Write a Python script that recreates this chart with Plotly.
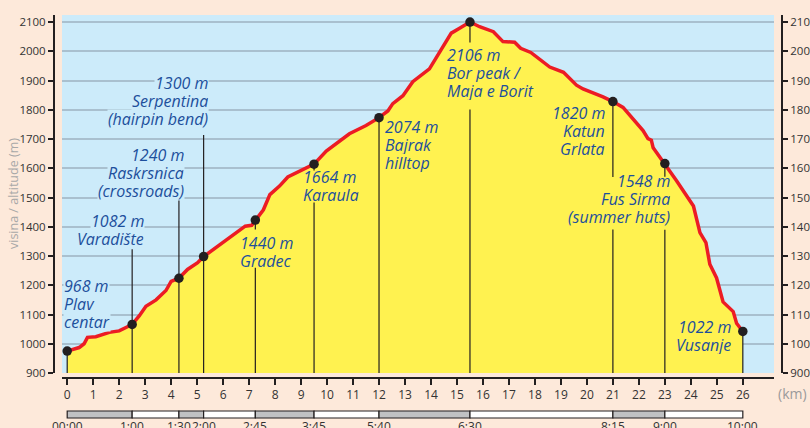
import plotly.graph_objects as go

# ---------------- data ----------------
profile_km = [0, 0.46, 0.65, 0.78, 1.1, 1.62, 2.0, 2.2, 2.5, 2.77, 3.03, 3.42, 3.8, 4.0, 4.3,
              4.63, 5.02, 5.25, 5.79, 6.3, 6.85, 7.1, 7.24, 7.55, 7.8, 8.17, 8.49, 8.81, 9.13,
              9.5, 9.97, 10.86, 11.5, 12.0, 12.34, 12.53, 12.92, 13.3, 13.94, 14.39, 14.78,
              15.1, 15.5, 15.87, 16.4, 16.77, 17.22, 17.45, 17.84, 18.57, 19.1, 19.6, 19.85,
              20.62, 21.0, 21.39, 22.16, 22.35, 22.48, 22.55, 23.0, 23.45, 24.1, 24.35, 24.58,
              24.73, 24.99, 25.24, 25.63, 25.76, 26.0]
profile_elev = [975, 987, 1000, 1022, 1024, 1039, 1044, 1053, 1066, 1095, 1128, 1150, 1182, 1213, 1224,
                1254, 1277, 1298, 1332, 1364, 1402, 1405, 1423, 1458, 1510, 1539, 1570, 1584, 1600,
                1614, 1659, 1718, 1746, 1773, 1796, 1821, 1848, 1896, 1940, 2007, 2062,
                2079, 2100, 2084, 2067, 2033, 2031, 2010, 1996, 1946, 1928, 1884, 1871,
                1844, 1828, 1808, 1729, 1701, 1696, 1670, 1616, 1557, 1471, 1380, 1346,
                1272, 1225, 1143, 1110, 1070, 1042]

station_km = [0, 2.5, 4.3, 5.25, 7.24, 9.5, 12, 15.5, 21, 23, 26]
station_elev = [975, 1066, 1224, 1298, 1423, 1614, 1773, 2100, 1828, 1616, 1042]
station_labels = [["968 m", "Plav", "centar"],
                  ["1082 m", "Varadište"],
                  ["1240 m", "Raskrsnica", "(crossroads)"],
                  ["1300 m", "Serpentina", "(hairpin bend)"],
                  ["1440 m", "Gradec"],
                  ["1664 m", "Karaula"],
                  ["2074 m", "Bajrak", "hilltop"],
                  ["2106 m", "Bor peak /", "Maja e Borit"],
                  ["1820 m", "Katun", "Grlata"],
                  ["1548 m", "Fus Sirma", "(summer huts)"],
                  ["1022 m", "Vusanje"]]
station_times = ["00:00", "1:00", "1:30", "2:00", "2:45", "3:45", "5:40", "6:30", "8:15", "9:00", "10:00"]

y_ticks = [900, 1000, 1100, 1200, 1300, 1400, 1500, 1600, 1700, 1800, 1900, 2000, 2100]
x_ticks = list(range(0, 27))
y_title = "visina / altitude (m)"
x_unit = "(km)"

# ---------------- layout helpers (positions / styles) ----------------
label_x = [-0.15, 3.0, 4.53, 5.47, 6.6, 9.04, 12.21, 14.59, 20.75, 23.23, 25.6]
label_y = [1135, 1390, 1583, 1829, 1313, 1538, 1680, 1925, 1727, 1494, 1026]
label_side = ["left", "right", "right", "right", "left", "left", "left", "left", "right", "right", "right"]
label_on_sky = [True, True, True, True, False, False, False, False, False, False, False]
leader_parts = [
    [(None, 900)],
    [(1323, 900)],
    [(1494, 900)],
    [(1714, 900)],
    [(None, 1391), (1260, 900)],
    [(None, 1592), (1483, 900)],
    [(None, 900)],
    [(None, 2030), (1801, 900)],
    [(None, 1570), (1391, 900)],
    [(None, 1571), (1390, 900)],
    [(None, 900)],
]

BG = "#FDE9DA"
SKY = "#CCEBFA"
YELLOW = "#FFF250"
RED = "#EC1C24"
INK = "#231F20"
BLUE_TXT = "#1D4F9C"
FONT = "Open Sans"
LABEL_SIZE = 16
ROW_PX = 18

W, H = 810, 428
ML, MR, MT, MB = 54, 28, 15, 50
PW = W - ML - MR
PH = H - MT - MB
xdom = [8 / PW, 1 - 8 / PW]
ydom = [5 / PH, 1]
Y_RANGE = [900, 2124]
m_per_px = (Y_RANGE[1] - Y_RANGE[0]) / (PH * (ydom[1] - ydom[0]))


def px_to_paper_x(px):
    return (px - ML) / PW


def px_to_paper_y(py):
    return (H - MB - py) / PH


fig = go.Figure()

fig.add_trace(go.Scatter(
    x=profile_km, y=profile_elev, mode="lines",
    line=dict(color=RED, width=3.5), fill="tozeroy", fillcolor=YELLOW,
    hoverinfo="skip", showlegend=False))

lx, ly = [], []
for k, e, parts in zip(station_km, station_elev, leader_parts):
    for top, bot in parts:
        lx += [k, k, None]
        ly += [e if top is None else top, bot, None]
fig.add_trace(go.Scatter(x=lx, y=ly, mode="lines", line=dict(color=INK, width=1.2),
                         hoverinfo="skip", showlegend=False))

fig.add_trace(go.Scatter(x=station_km, y=station_elev, mode="markers",
                         marker=dict(size=9.5, color=INK), cliponaxis=False,
                         hoverinfo="skip", showlegend=False))

# dummy trace so the right-hand axis is drawn
fig.add_trace(go.Scatter(x=[station_km[0]], y=[station_elev[0]], yaxis="y2", mode="markers",
                         marker=dict(opacity=0), hoverinfo="skip", showlegend=False))

annotations = []
for rows, x, yc, side, sky in zip(station_labels, label_x, label_y, label_side, label_on_sky):
    n = len(rows)
    for i, row in enumerate(rows):
        yy = yc + ((n - 1) / 2 - i) * ROW_PX * m_per_px
        annotations.append(dict(
            text=row, x=x, y=yy, xref="x", yref="y", showarrow=False,
            xanchor=side, yanchor="middle", align=side, height=ROW_PX,
            font=dict(family=FONT, size=LABEL_SIZE, color=BLUE_TXT, style="italic"),
            bgcolor=SKY if sky else None, borderpad=0))

annotations.append(dict(text=y_title, textangle=-90, x=px_to_paper_x(13), y=px_to_paper_y(194),
                        xref="paper", yref="paper", showarrow=False,
                        xanchor="center", yanchor="middle",
                        font=dict(family=FONT, size=12.5, color="#A8A8A8")))
annotations.append(dict(text=x_unit, x=px_to_paper_x(792), y=px_to_paper_y(393),
                        xref="paper", yref="paper", showarrow=False,
                        xanchor="center", yanchor="middle",
                        font=dict(family=FONT, size=14, color="#9A9A9A")))

shapes = []
bar_y0, bar_y1 = px_to_paper_y(418), px_to_paper_y(411)
for i in range(len(station_km) - 1):
    shapes.append(dict(type="rect", xref="x", yref="paper",
                       x0=station_km[i], x1=station_km[i + 1], y0=bar_y0, y1=bar_y1,
                       fillcolor="#C0C1C3" if i % 2 == 0 else "#FFFFFF",
                       line=dict(color=INK, width=1.2), layer="above"))
for k, t in zip(station_km, station_times):
    annotations.append(dict(text=t, x=k, y=px_to_paper_y(426.5), xref="x", yref="paper",
                            showarrow=False, xanchor="center", yanchor="middle",
                            font=dict(family=FONT, size=12, color="#333333")))

yaxis_common = dict(range=Y_RANGE, tickvals=y_ticks, ticks="outside", ticklen=5,
                    tickwidth=1.5, tickcolor=INK, showline=True, linecolor=INK, linewidth=2,
                    tickfont=dict(family=FONT, size=11.5, color="#333333"), zeroline=False,
                    domain=ydom, anchor="free", automargin=False)

fig.update_layout(
    width=W, height=H,
    margin=dict(l=ML, r=MR, t=MT, b=MB, autoexpand=False),
    paper_bgcolor=BG, plot_bgcolor=SKY,
    showlegend=False,
    xaxis=dict(range=[-0.2, 27.2], domain=xdom, anchor="free", position=0,
               tickvals=x_ticks, ticks="outside", ticklen=6, tickwidth=1.5, tickcolor=INK,
               showline=True, linecolor=INK, linewidth=2, showgrid=False, zeroline=False,
               automargin=False,
               tickfont=dict(family=FONT, size=12, color="#333333")),
    yaxis=dict(**yaxis_common, position=0, side="left", showgrid=True,
               gridcolor="#A9C0CF", gridwidth=1.5),
    yaxis2=dict(**yaxis_common, position=1, side="right", overlaying="y", matches="y",
                showgrid=False),
    annotations=annotations,
    shapes=shapes,
)

fig.write_html("out.html", config={"displayModeBar": False},
               post_script="document.body.style.margin='0';document.body.style.background='%s';" % BG)
